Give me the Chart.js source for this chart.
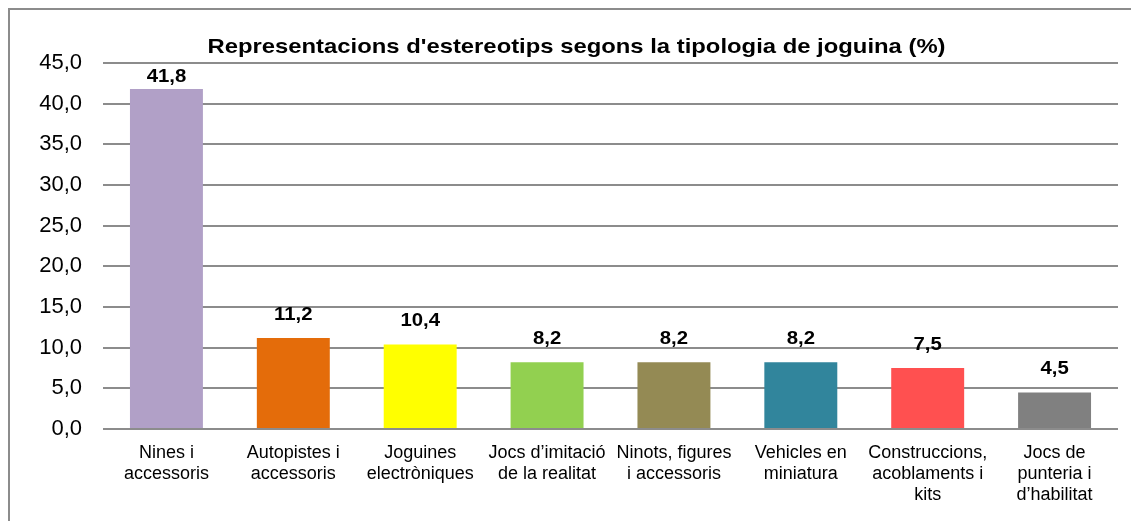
<!DOCTYPE html>
<html>
<head>
<meta charset="utf-8">
<script src="https://cdn.jsdelivr.net/npm/chart.js@4.4.1/dist/chart.umd.min.js"></script>
<style>
html,body{margin:0;padding:0;background:#fff;}
#wrap{position:relative;width:1131px;height:521px;overflow:hidden;}
#frame{position:absolute;left:8px;top:8px;width:1200px;height:600px;border-top:2px solid #8c8c8c;border-left:2px solid #8c8c8c;box-sizing:border-box;}
canvas{position:absolute;left:0;top:0;}
</style>
</head>
<body>
<div id="wrap">
<div id="frame"></div>
<canvas id="c" width="1131" height="521"></canvas>
</div>
<script>
const titleText = "Representacions d'estereotips segons la tipologia de joguina (%)";
const categories = [
  ["Nines i", "accessoris"],
  ["Autopistes i", "accessoris"],
  ["Joguines", "electròniques"],
  ["Jocs d’imitació", "de la realitat"],
  ["Ninots, figures", "i accessoris"],
  ["Vehicles en", "miniatura"],
  ["Construccions,", "acoblaments i", "kits"],
  ["Jocs de", "punteria i", "d’habilitat"]
];
const values = [41.8, 11.2, 10.4, 8.2, 8.2, 8.2, 7.5, 4.5];
const barColors = ["#B1A0C7", "#E46C0A", "#FFFF00", "#92D050", "#948A54", "#31859C", "#FF5050", "#808080"];
const yMin = 0, yMax = 45, yStep = 5;

const FONT = "'Liberation Sans', Arial, sans-serif";
const fmt = v => v.toFixed(1).replace('.', ',');

function stretchedText(ctx, text, x, y, sx) {
  ctx.save();
  ctx.translate(x, y);
  ctx.scale(sx, 1);
  ctx.fillText(text, 0, 0);
  ctx.restore();
}

const labelPlugin = {
  id: 'barLabels',
  afterDatasetsDraw(chart) {
    const ctx = chart.ctx;
    const meta = chart.getDatasetMeta(0);
    ctx.save();
    ctx.font = "bold 18px " + FONT;
    ctx.fillStyle = '#000';
    ctx.textAlign = 'center';
    ctx.textBaseline = 'middle';
    meta.data.forEach((bar, i) => {
      const y = Math.max(bar.y - 23, chart.chartArea.top + 14.5);
      stretchedText(ctx, fmt(values[i]), bar.x, y, 1.13);
    });
    ctx.restore();
  },
  afterDraw(chart) {
    const ctx = chart.ctx;
    ctx.save();
    ctx.font = "bold 21px " + FONT;
    ctx.fillStyle = '#000';
    ctx.textAlign = 'center';
    ctx.textBaseline = 'alphabetic';
    stretchedText(ctx, titleText, 576.5, 53, 1.135);
    ctx.restore();
  }
};

new Chart(document.getElementById('c'), {
  type: 'bar',
  data: {
    labels: categories,
    datasets: [{
      data: values,
      backgroundColor: barColors,
      borderWidth: 0,
      categoryPercentage: 1.0,
      barPercentage: 0.575
    }]
  },
  options: {
    responsive: false,
    animation: false,
    devicePixelRatio: 1,
    layout: { padding: { left: 34, right: 13, top: 63, bottom: 0 } },
    plugins: {
      legend: { display: false },
      tooltip: { enabled: false },
      title: { display: false }
    },
    scales: {
      x: {
        grid: { display: false, drawTicks: false },
        border: { display: false },
        ticks: {
          color: '#000',
          font: { family: FONT, size: 18, lineHeight: 1.15 },
          padding: 14,
          maxRotation: 0,
          autoSkip: false
        },
        afterFit(s) { s.height = 92; }
      },
      y: {
        min: yMin, max: yMax,
        grid: { color: '#8c8c8c', lineWidth: 2, drawTicks: false },
        border: { display: false },
        ticks: {
          stepSize: yStep,
          color: '#000',
          font: { family: FONT, size: 22 },
          padding: 21,
          callback: v => fmt(v)
        },
        afterFit(s) { s.width = 69; }
      }
    }
  },
  plugins: [labelPlugin]
});
</script>
</body>
</html>
